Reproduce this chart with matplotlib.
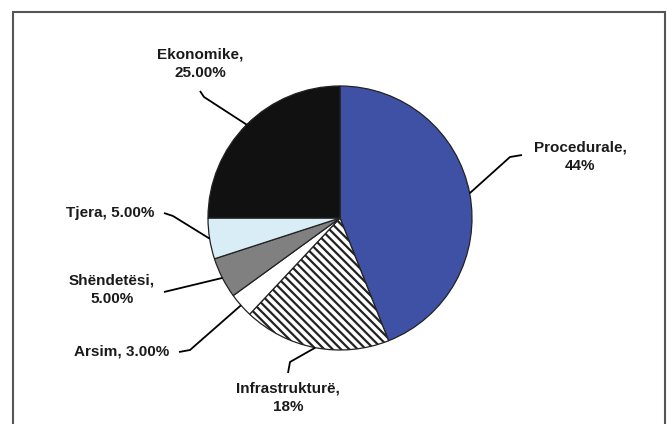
import numpy as np
import matplotlib
matplotlib.use("Agg")
import matplotlib.pyplot as plt
from matplotlib.patches import Rectangle

plt.rcParams['font.family'] = ['Liberation Sans', 'DejaVu Sans']
plt.rcParams['hatch.linewidth'] = 1.6

# data
categories = ["Procedurale", "Infrastrukturë", "Arsim", "Shëndetësi", "Tjera", "Ekonomike"]
values = [44, 18, 3, 5, 5, 25]
value_labels = ["44%", "18%", "3.00%", "5.00%", "5.00%", "25.00%"]
colors = ["#3f51a5", "white", "white", "#808080", "#d8edf6", "#111111"]
hatches = [None, "\\\\\\\\", None, None, None, None]

W, H = 668, 424
fig = plt.figure(figsize=(W / 100, H / 100), dpi=100)
ax = fig.add_axes([0, 0, 1, 1])

cx, cy, r = 340, H - 218, 132

wedges, _ = ax.pie(values, colors=colors, startangle=90, counterclock=False,
                   center=(cx, cy), radius=r, frame=True,
                   wedgeprops=dict(edgecolor="#222222", linewidth=0.9))
for w, h in zip(wedges, hatches):
    if h:
        w.set_hatch(h)
ax.set_xlim(0, W)
ax.set_ylim(0, H)
ax.axis("off")

# label centre (x, y from top) and leader elbow points (pixels from top)
label_layout = {
    "Procedurale": dict(text=(580, 157), lines=[(510, 157), (522, 155)], two=True),
    "Infrastrukturë": dict(text=(288, 398), lines=[(290, 362), (288, 373)], two=True),
    "Arsim": dict(text=(122, 352), lines=[(190, 350), (179, 352)], two=False),
    "Shëndetësi": dict(text=(112, 290), lines=[(164, 292)], two=True),
    "Tjera": dict(text=(110, 213), lines=[(173, 216), (164, 213)], two=False),
    "Ekonomike": dict(text=(200, 64), lines=[(204, 97), (200, 91)], two=True),
}

for w, cat, vl in zip(wedges, categories, value_labels):
    mid = np.deg2rad((w.theta1 + w.theta2) / 2)
    ex, ey = cx + r * np.cos(mid), cy + r * np.sin(mid)
    lay = label_layout[cat]
    pts = [(ex, ey)] + [(x, H - y) for x, y in lay["lines"]]
    ax.plot([p[0] for p in pts], [p[1] for p in pts], color="black", lw=1.3,
            solid_capstyle="butt")
    tx, ty = lay["text"]
    s = f"{cat},\n{vl}" if lay["two"] else f"{cat}, {vl}"
    ax.text(tx, H - ty, s, ha="center", va="center", fontsize=11,
            fontweight="bold", linespacing=1.4, color="#1a1a1a")

ax.add_patch(Rectangle((12.5, -10), 652, H - 12 + 10, fill=False,
                       edgecolor="#555555", linewidth=1.5, clip_on=False))

fig.savefig("out.png", dpi=100)
